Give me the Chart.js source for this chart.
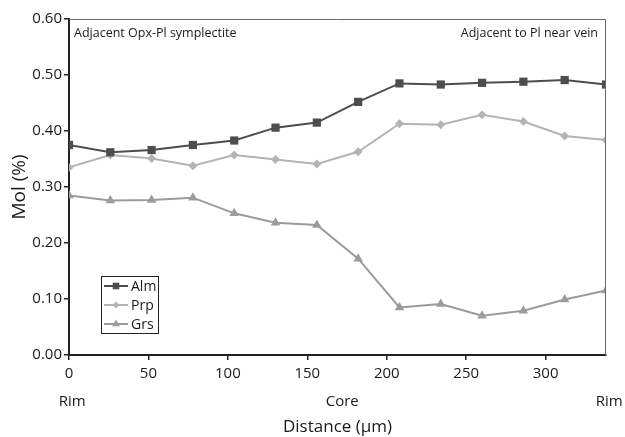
<!DOCTYPE html>
<html>
<head>
<meta charset="utf-8">
<script src="https://cdn.jsdelivr.net/npm/chart.js@4"></script>
<style>
  html, body { margin: 0; padding: 0; background: #fff; }
  #wrap { width: 625px; height: 437px; }
</style>
</head>
<body>
<div id="wrap"><canvas id="chart" width="625" height="437"></canvas></div>
<script>
// distance along the traverse (um)
const distance = [0, 26, 52, 78, 104, 130, 156, 182, 208, 234, 260, 286, 312, 338];
const alm = [0.375, 0.362, 0.366, 0.375, 0.383, 0.406, 0.415, 0.452, 0.485, 0.483, 0.486, 0.488, 0.491, 0.483];
const prp = [0.335, 0.357, 0.351, 0.338, 0.357, 0.349, 0.341, 0.363, 0.413, 0.411, 0.429, 0.417, 0.391, 0.384];
const grs = [0.285, 0.276, 0.277, 0.281, 0.253, 0.236, 0.232, 0.172, 0.085, 0.091, 0.070, 0.079, 0.099, 0.115];

const zoneLabels = ['Rim', 'Core', 'Rim'];
const zonePositions = [2, 172, 340];
const noteLeft = 'Adjacent Opx-Pl symplectite';
const noteRight = 'Adjacent to Pl near vein';

const FONT = '"Open Sans", "DejaVu Sans", sans-serif';

function toPoints(ys) {
  return ys.map((y, i) => ({x: distance[i], y: y}));
}

const series = [
  {label: 'Alm', data: toPoints(alm), color: '#4d4d4f', style: 'rect', radius: 5.8},
  {label: 'Prp', data: toPoints(prp), color: '#b4b4b4', style: 'rectRot', radius: 4.5},
  {label: 'Grs', data: toPoints(grs), color: '#9b9b9b', style: 'triangle', radius: 5.5}
];

// frame, zone labels, notes and the boxed legend
const extras = {
  id: 'extras',
  afterDraw(chart) {
    const ctx = chart.ctx;
    const a = chart.chartArea;
    const xs = chart.scales.x;
    ctx.save();

    ctx.strokeStyle = '#6a6a6a';
    ctx.lineWidth = 1;
    ctx.beginPath();
    ctx.moveTo(a.left, a.top + 0.5);
    ctx.lineTo(a.right - 0.5, a.top + 0.5);
    ctx.lineTo(a.right - 0.5, a.bottom);
    ctx.stroke();

    ctx.fillStyle = '#1a1a1a';
    ctx.font = '15px ' + FONT;
    ctx.textAlign = 'center';
    ctx.textBaseline = 'middle';
    zoneLabels.forEach((t, i) => {
      ctx.fillText(t, xs.getPixelForValue(zonePositions[i]), 402);
    });

    ctx.font = '12.5px ' + FONT;
    ctx.textAlign = 'left';
    ctx.fillText(noteLeft, a.left + 5, 33);
    ctx.textAlign = 'right';
    ctx.fillText(noteRight, a.right - 8, 33);

    // legend
    const bx = 101, by = 276, bw = 57, bh = 57;
    ctx.fillStyle = '#fff';
    ctx.fillRect(bx, by, bw, bh);
    ctx.strokeStyle = '#222';
    ctx.lineWidth = 1;
    ctx.strokeRect(bx + 0.5, by + 0.5, bw, bh);
    ctx.font = '14px ' + FONT;
    ctx.textAlign = 'left';
    series.forEach((s, i) => {
      const y = by + 10 + i * 19;
      ctx.strokeStyle = s.color;
      ctx.lineWidth = 2;
      ctx.beginPath();
      ctx.moveTo(bx + 3, y);
      ctx.lineTo(bx + 27, y);
      ctx.stroke();
      ctx.fillStyle = s.color;
      const r = s.radius * 0.8;
      ctx.beginPath();
      if (s.style === 'rect') {
        const h = r * Math.SQRT1_2;
        ctx.rect(bx + 15 - h, y - h, 2 * h, 2 * h);
      } else if (s.style === 'rectRot') {
        ctx.moveTo(bx + 15 - r, y);
        ctx.lineTo(bx + 15, y - r);
        ctx.lineTo(bx + 15 + r, y);
        ctx.lineTo(bx + 15, y + r);
        ctx.closePath();
      } else {
        ctx.moveTo(bx + 15, y - r);
        ctx.lineTo(bx + 15 + r * 0.866, y + r * 0.5);
        ctx.lineTo(bx + 15 - r * 0.866, y + r * 0.5);
        ctx.closePath();
      }
      ctx.fill();
      ctx.fillStyle = '#1a1a1a';
      ctx.fillText(s.label, bx + 30, y + 1);
    });

    ctx.restore();
  }
};

new Chart(document.getElementById('chart'), {
  type: 'line',
  data: {
    datasets: series.map(s => ({
      label: s.label,
      data: s.data,
      borderColor: s.color,
      backgroundColor: s.color,
      borderWidth: 2,
      pointStyle: s.style,
      pointRadius: s.radius,
      pointHoverRadius: s.radius,
      pointBorderWidth: 0,
      tension: 0
    }))
  },
  options: {
    responsive: false,
    animation: false,
    layout: {padding: {left: 0, top: 19, right: 19, bottom: 0}},
    plugins: {legend: {display: false}, tooltip: {enabled: false}},
    scales: {
      x: {
        type: 'linear',
        min: 0,
        max: 338,
        afterBuildTicks: s => { s.ticks = [0, 50, 100, 150, 200, 250, 300].map(v => ({value: v})); },
        afterFit: s => { s.height = 82; },
        grid: {display: true, drawOnChartArea: false, tickLength: 5, color: '#222', lineWidth: 1.5},
        border: {display: true, color: '#222', width: 2},
        ticks: {color: '#1a1a1a', font: {size: 15, family: FONT}, padding: 5, maxRotation: 0},
        title: {display: true, text: 'Distance (\u00b5m)', color: '#1a1a1a', font: {size: 17, family: FONT}, padding: {top: 0, bottom: 0}}
      },
      y: {
        min: 0,
        max: 0.6,
        afterFit: s => { s.width = 69; },
        grid: {display: true, drawOnChartArea: false, tickLength: 5, color: '#222', lineWidth: 1.5},
        border: {display: true, color: '#222', width: 2},
        ticks: {stepSize: 0.1, color: '#1a1a1a', font: {size: 15, family: FONT}, padding: 2,
          callback: v => v.toFixed(2)},
        title: {display: true, text: 'Mol (%)', color: '#1a1a1a', font: {size: 19, family: FONT}, padding: {top: 8, bottom: 0}}
      }
    }
  },
  plugins: [extras]
});
</script>
</body>
</html>
